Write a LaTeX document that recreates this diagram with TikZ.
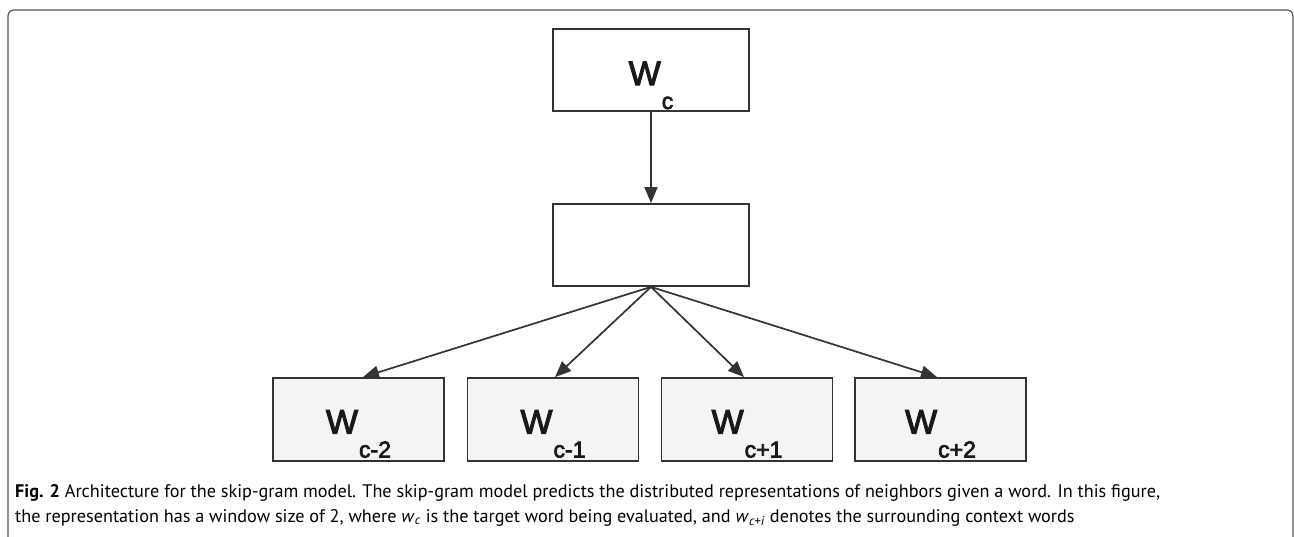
\documentclass[tikz,border=0pt]{standalone}
\usepackage{fontspec}
\setmainfont{PT Sans}
\newfontfamily\arialf[FakeBold=3]{Liberation Sans}
\usetikzlibrary{arrows.meta}
\definecolor{boxline}{HTML}{333333}
\definecolor{boxfill}{HTML}{F4F4F4}
\definecolor{framec}{HTML}{555555}
\newcommand{\wlab}[1]{{\arialf\fontsize{34}{34}\selectfont W}\hspace{1pt}\raisebox{-24pt}{\arialf\fontsize{23}{23}\selectfont #1}}
\tikzset{
  topbox/.style={draw=boxline, line width=1.8pt, minimum width=196pt, minimum height=82pt, inner sep=0pt},
  botbox/.style={draw=boxline, fill=boxfill, line width=1.8pt, minimum width=171pt, minimum height=83pt, inner sep=0pt},
  wlabel/.style={anchor=base, inner sep=0pt, text=black!90},
  conn/.style={draw=boxline, line width=1.7pt, -{Triangle[length=16pt,width=13pt]}},
  captext/.style={anchor=base west, inner sep=0pt, font=\fontsize{18.2}{25}\selectfont},
}
\begin{document}
\begin{tikzpicture}[x=1pt,y=-1pt]
\useasboundingbox (0,0) rectangle (1294,537);
\draw[framec, line width=1.2pt, rounded corners=6pt] (8,537) -- (8,10) -- (1293,10) -- (1293,537);
\node[topbox] (top) at (651,70) {};
\node[topbox] (mid) at (651,245) {};
\node[botbox] (b1) at (358.5,419.5) {};
\node[botbox] (b2) at (553,419.5) {};
\node[botbox] (b3) at (747,419.5) {};
\node[botbox] (b4) at (940.5,419.5) {};
\node[wlabel] (ltop) at ([yshift=-15pt]top.center) {\wlab{c}};
\node[wlabel] (l1) at ([yshift=-14pt]b1.center) {\wlab{c-2}};
\node[wlabel] (l2) at ([yshift=-14pt]b2.center) {\wlab{c-1}};
\node[wlabel] (l3) at ([yshift=-14pt]b3.center) {\wlab{c+1}};
\node[wlabel] (l4) at ([yshift=-14pt]b4.center) {\wlab{c+2}};
\draw[conn] (top.south) -- (mid.north);
\draw[conn] (mid.south) -- ([xshift=4.5pt]b1.north);
\draw[conn] (mid.south) -- ([xshift=2pt]b2.north);
\draw[conn] (mid.south) -- ([xshift=-3pt]b3.north);
\draw[conn] (mid.south) -- ([xshift=-3.5pt]b4.north);
\node[captext] (cap1) at (15,497)
 {\textbf{Fig. 2} Architecture for the skip-gram model. The skip-gram model predicts the distributed representations of neighbors given a word. In this figure,};
\node[captext] (cap2) at (15,522)
 {the representation has a window size of 2, where \textit{w}\textsubscript{\textit{c}} is the target word being evaluated, and \textit{w}\textsubscript{\textit{c}+\textit{i}} denotes the surrounding context words};
\end{tikzpicture}
\end{document}
